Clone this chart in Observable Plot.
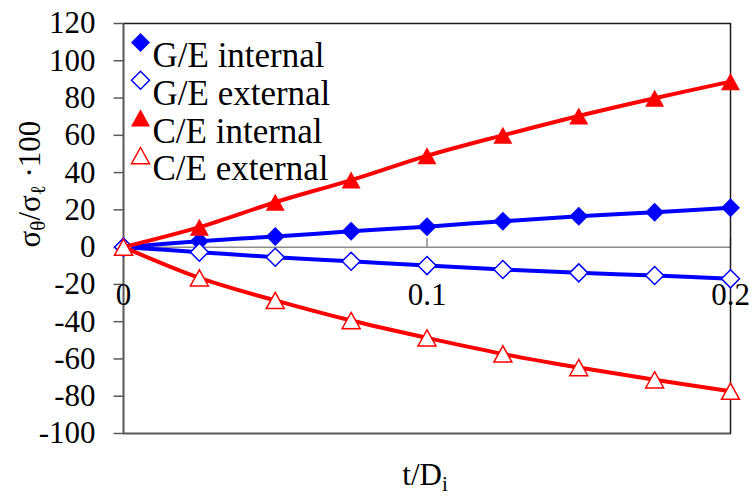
<!DOCTYPE html>
<html><head><meta charset="utf-8">
<script src="https://cdn.jsdelivr.net/npm/d3@7"></script>
<script src="https://cdn.jsdelivr.net/npm/@observablehq/plot@0.6"></script>
<style>
body{margin:0;background:#fff;}
#chart{position:relative;width:752px;height:498px;}
#chart svg, #chart svg text{font-family:'Liberation Serif','Times New Roman',serif !important;}
</style>
</head><body><div id="chart"></div>
<script>
// ---- data ----
const tOverD = [0, 0.025, 0.05, 0.075, 0.1, 0.125, 0.15, 0.175, 0.2];
const geInternal = [0, 3.2, 5.7, 8.5, 11.0, 13.9, 16.6, 18.7, 21.1];
const geExternal = [0, -2.7, -5.4, -7.6, -9.9, -12.0, -13.8, -15.2, -17.0];
const ceInternal = [0, 10.7, 24.1, 36.0, 49.0, 60.0, 70.4, 79.9, 88.8];
const ceExternal = [0, -16.5, -28.6, -39.4, -48.7, -57.3, -64.6, -71.2, -77.3];
const seriesNames = ["G/E internal", "G/E external", "C/E internal", "C/E external"];
const xTicks = [0, 0.1, 0.2];
const xTickLabels = ["0", "0.1", "0.2"];
const yTicks = [-100, -80, -60, -40, -20, 0, 20, 40, 60, 80, 100, 120];
const yTickLabels = ["-100", "-80", "-60", "-40", "-20", "0", "20", "40", "60", "80", "100", "120"];

// ---- symbols ----
const diamond = {draw(ctx, size){const r=Math.sqrt(size/Math.PI); ctx.moveTo(0,-r); ctx.lineTo(r,0); ctx.lineTo(0,r); ctx.lineTo(-r,0); ctx.closePath();}};
const triangle = {draw(ctx, size){const r=Math.sqrt(size/Math.PI); const h=r*0.9; ctx.moveTo(0,-h); ctx.lineTo(r,h); ctx.lineTo(-r,h); ctx.closePath();}};
const upTick = {draw(ctx, size){const r=Math.sqrt(size/Math.PI); ctx.moveTo(0,0); ctx.lineTo(0,-r);}};
const leftTick = {draw(ctx, size){const r=Math.sqrt(size/Math.PI); ctx.moveTo(0,0); ctx.lineTo(-r,0);}};

const BLUE = "#0000ff", RED = "#ff0000";
const series = [
  {name: seriesNames[0], values: geInternal, color: BLUE, filled: true, symbol: diamond},
  {name: seriesNames[1], values: geExternal, color: BLUE, filled: false, symbol: diamond},
  {name: seriesNames[2], values: ceInternal, color: RED, filled: true, symbol: triangle},
  {name: seriesNames[3], values: ceExternal, color: RED, filled: false, symbol: triangle}
];

const FONT = "'Liberation Serif', 'Times New Roman', serif";
const marks = [
  Plot.ruleY([0], {stroke: "#8c8c8c", strokeWidth: 1.5}),
  Plot.dot(xTicks, {x: d => d, y: 0, symbol: upTick, r: 9, stroke: "#8c8c8c", strokeWidth: 1.5}),
  Plot.frame({stroke: "#1a1a1a", strokeWidth: 1.5}),
  Plot.ruleX([0], {stroke: "#5a5a5a", strokeWidth: 1.5}),
  Plot.ruleY([-100], {stroke: "#5a5a5a", strokeWidth: 1.5}),
  Plot.dot(yTicks, {y: d => d, frameAnchor: "left", symbol: leftTick, r: 10, stroke: "#5a5a5a", strokeWidth: 1.5}),
  Plot.text(yTicks, {y: d => d, frameAnchor: "left", dx: -28, textAnchor: "end", text: (d, i) => yTickLabels[i], fontSize: 31, fontFamily: FONT, fill: "#000"}),
  Plot.text(xTicks, {x: d => d, y: 0, text: (d, i) => xTickLabels[i], dy: 48, fontSize: 31, fontFamily: FONT, fill: "#000"})
];
series.forEach((s, k) => {
  const rows = tOverD.map((t, i) => ({t, v: s.values[i]}));
  marks.push(Plot.line(rows, {x: "t", y: "v", stroke: s.color, strokeWidth: 4, curve: "catmull-rom"}));
  marks.push(Plot.dot(rows, {x: "t", y: "v", symbol: s.symbol, r: s.filled ? 9.5 : 9,
    fill: s.filled ? s.color : "#fff", stroke: s.filled ? "none" : s.color, strokeWidth: 1.5}));
  // legend entry
  const dy = 19 + k * 37.7;
  marks.push(Plot.dot([s.name], {frameAnchor: "top-left", dx: 17, dy, symbol: s.symbol, r: s.filled ? 9.5 : 9,
    fill: s.filled ? s.color : "#fff", stroke: s.filled ? "none" : s.color, strokeWidth: 1.5}));
  marks.push(Plot.text([s.name], {frameAnchor: "top-left", dx: 29, dy, text: d => d, textAnchor: "start", fontSize: 35, fontFamily: FONT, fill: "#000"}));
});

const chart = Plot.plot({
  width: 752, height: 498,
  marginLeft: 123, marginRight: 22, marginTop: 23, marginBottom: 65,
  style: {fontFamily: FONT, background: "#fff", overflow: "visible"},
  x: {domain: [0, 0.2], axis: null},
  y: {domain: [-100, 120], axis: null},
  marks
});
document.getElementById("chart").appendChild(chart);

// axis titles with subscripts
const svg = d3.select(chart);
const yl = svg.append("text")
  .attr("transform", "translate(33,184) rotate(-90)")
  .attr("text-anchor", "middle").attr("dominant-baseline", "middle")
  .attr("font-family", FONT).attr("font-size", 31).attr("fill", "#000");
yl.append("tspan").text("σ");
yl.append("tspan").attr("font-size", 21).attr("dy", 7).text("θ");
yl.append("tspan").attr("dy", -7).text("/σ");
yl.append("tspan").attr("font-size", 21).attr("dy", 7).text("ℓ");
yl.append("tspan").attr("dy", -7).text(" ·100");

const xl = svg.append("text")
  .attr("x", 425).attr("y", 485)
  .attr("text-anchor", "middle")
  .attr("font-family", FONT).attr("font-size", 31).attr("fill", "#000");
xl.append("tspan").text("t/D");
xl.append("tspan").attr("font-size", 21).attr("dy", 6).text("i");
</script>
</body></html>
